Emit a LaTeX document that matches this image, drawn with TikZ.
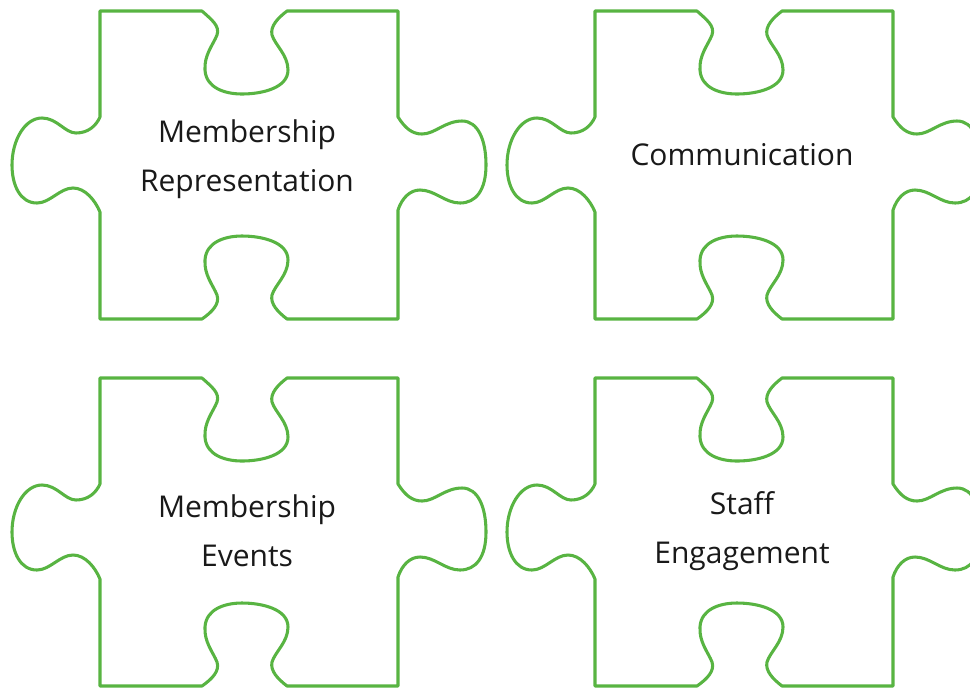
\documentclass[tikz,border=0pt]{standalone}
\usepackage{fontspec}
\setmainfont{Open Sans}
\definecolor{piecegreen}{RGB}{88,180,66}
\tikzset{
	piece/.style={draw=piecegreen, line width=2.3pt, line join=round},
	label/.style={align=center, text=black!90, font=\fontsize{22.5}{37}\selectfont}
}
% outline of one piece, in pixels (y grows downwards)
\newcommand{\puzzleoutline}{
	(100,11) -- (202,11)
	.. controls (212,20) and (220,26) .. (217,35)
	.. controls (213,45) and (204,55) .. (205,70)
	.. controls (206,88) and (225,94) .. (242,94)
	.. controls (262,94) and (288,88) .. (288,70)
	.. controls (288,55) and (275,45) .. (272,35)
	.. controls (270,26) and (278,18) .. (287,11)
	-- (398,11) -- (398,117)
	.. controls (405,128) and (412,134) .. (422,134)
	.. controls (435,134) and (445,121) .. (462,121)
	.. controls (478,121) and (486,140) .. (486,165)
	.. controls (486,190) and (476,203) .. (460,203)
	.. controls (445,203) and (435,190) .. (420,190)
	.. controls (410,190) and (402,198) .. (398,210)
	-- (398,319) -- (287,319)
	.. controls (278,312) and (270,304) .. (272,295)
	.. controls (275,285) and (288,275) .. (288,260)
	.. controls (288,242) and (262,236) .. (242,236)
	.. controls (225,236) and (206,242) .. (205,260)
	.. controls (204,275) and (213,285) .. (217,295)
	.. controls (220,304) and (212,312) .. (202,319)
	-- (100,319) -- (100,212)
	.. controls (95,200) and (85,188) .. (73,188)
	.. controls (60,188) and (50,203) .. (37,203)
	.. controls (20,203) and (12,185) .. (12,165)
	.. controls (12,140) and (25,118) .. (42,118)
	.. controls (57,118) and (65,133) .. (76,133)
	.. controls (88,133) and (96,126) .. (100,117)
	-- cycle
}
\begin{document}
\begin{tikzpicture}[x=0.75pt, y=-0.75pt]
	\useasboundingbox (0,0) rectangle (970,687);
	\foreach \dx/\dy/\name/\txt/\ty in {
		0/0/memrep/{Membership\\Representation}/159,
		495/0/comms/{Communication}/155,
		0/367/memevt/{Membership\\Events}/164,
		495/367/staff/{Staff\\Engagement}/164} {
		\begin{scope}[xshift=\dx*0.75pt, yshift=-\dy*0.75pt]
			\draw[piece] \puzzleoutline;
			\node[label] (\name) at (247,\ty) {\txt};
		\end{scope}
	}
\end{tikzpicture}
\end{document}
